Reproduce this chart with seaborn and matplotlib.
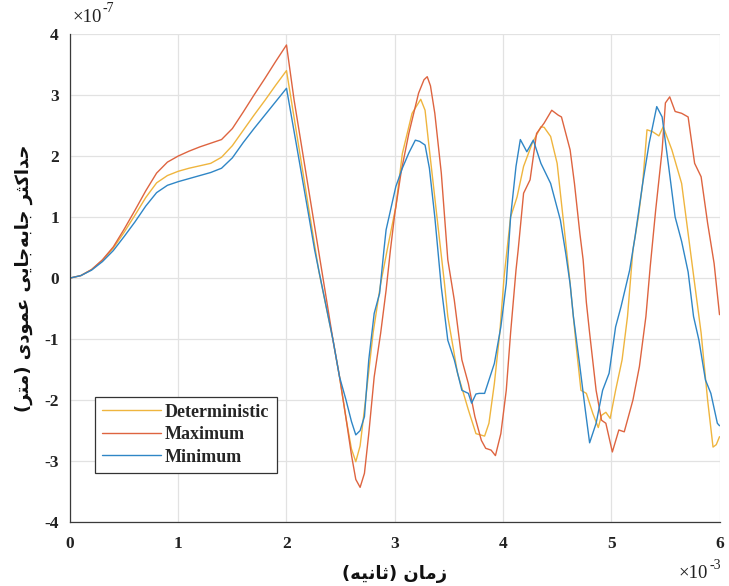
import numpy as np
import pandas as pd
import matplotlib
matplotlib.use('Agg')
import matplotlib.pyplot as plt
import seaborn as sns
from matplotlib.ticker import FuncFormatter

# ---------------- data (time in 1e-3 s, displacement in 1e-7 m) ----------------
series_names = ['Deterministic', 'Maximum', 'Minimum']
series_colors = ['#EFB53E', '#DE6440', '#2F86C6']

t_det = [0, 0.1, 0.2, 0.3, 0.4, 0.5, 0.6, 0.7, 0.8, 0.9, 1.0, 1.1, 1.2, 1.3, 1.4, 1.5, 1.6, 1.7, 1.8, 1.9, 2.0,
         2.1, 2.2, 2.3, 2.43, 2.49, 2.55, 2.6, 2.64, 2.68, 2.73, 2.8, 2.87, 2.93, 3.01, 3.07, 3.16, 3.24, 3.28, 3.31,
         3.39, 3.46, 3.49, 3.58, 3.68, 3.75, 3.83, 3.87, 3.92, 3.97, 4.01, 4.07, 4.13, 4.19, 4.27, 4.35, 4.38, 4.44,
         4.5, 4.56, 4.62, 4.68, 4.72, 4.77, 4.83, 4.88, 4.91, 4.95, 4.99, 5.04, 5.1, 5.15, 5.2, 5.25, 5.29, 5.33,
         5.38, 5.44, 5.48, 5.56, 5.65, 5.71, 5.77, 5.83, 5.89, 5.94, 5.97, 6.0]
v_det = [0, 0.04, 0.14, 0.29, 0.49, 0.75, 1.03, 1.32, 1.56, 1.68, 1.75, 1.8, 1.84, 1.88, 1.98, 2.17, 2.42, 2.67, 2.91, 3.16, 3.4,
         2.3, 1.2, 0.1, -1.02, -1.62, -2.3, -2.8, -3.01, -2.75, -2.0, -0.9, -0.09, 0.46, 1.17, 2.04, 2.7, 2.93, 2.75, 2.26,
         1.0, -0.1, -0.63, -1.56, -2.16, -2.55, -2.59, -2.38, -1.73, -0.9, 0.02, 1.0, 1.33, 1.83, 2.21, 2.48, 2.47, 2.32,
         1.88, 0.9, -0.09, -1.18, -1.84, -1.89, -2.22, -2.45, -2.25, -2.2, -2.3, -1.84, -1.34, -0.63, 0.46, 1.0, 1.55, 2.43,
         2.4, 2.33, 2.48, 2.1, 1.55, 0.73, -0.09, -0.9, -2.0, -2.77, -2.73, -2.6]

t_max = [0, 0.1, 0.2, 0.3, 0.4, 0.5, 0.6, 0.7, 0.8, 0.9, 1.0, 1.1, 1.2, 1.3, 1.4, 1.5, 1.6, 1.7, 1.8, 1.9, 2.0,
         2.07, 2.2, 2.37, 2.43, 2.49, 2.55, 2.6, 2.64, 2.68, 2.72, 2.76, 2.81, 2.87, 2.92, 2.96, 3.0, 3.06, 3.13, 3.22,
         3.27, 3.3, 3.33, 3.37, 3.43, 3.49, 3.55, 3.62, 3.68, 3.74, 3.8, 3.84, 3.89, 3.93, 3.98, 4.03, 4.07, 4.12, 4.14,
         4.19, 4.25, 4.31, 4.38, 4.45, 4.51, 4.54, 4.62, 4.66, 4.71, 4.74, 4.77, 4.8, 4.86, 4.91, 4.95, 5.01, 5.07, 5.12,
         5.2, 5.26, 5.32, 5.36, 5.41, 5.47, 5.5, 5.54, 5.59, 5.65, 5.71, 5.77, 5.83, 5.89, 5.95, 6.0]
v_max = [0, 0.04, 0.14, 0.3, 0.51, 0.8, 1.11, 1.43, 1.72, 1.9, 2.0, 2.08, 2.15, 2.21, 2.27, 2.45, 2.72, 3.0, 3.27, 3.55, 3.82,
         2.92, 1.5, -0.36, -1.02, -1.62, -2.3, -2.9, -3.3, -3.43, -3.2, -2.55, -1.62, -0.9, -0.2, 0.46, 1.05, 1.75, 2.37, 3.03,
         3.25, 3.3, 3.15, 2.7, 1.72, 0.3, -0.36, -1.34, -1.73, -2.27, -2.66, -2.79, -2.82, -2.91, -2.55, -1.84, -0.9, 0.13, 0.46,
         1.39, 1.61, 2.37, 2.54, 2.75, 2.67, 2.64, 2.1, 1.55, 0.73, 0.3, -0.4, -0.9, -1.84, -2.33, -2.38, -2.85, -2.49, -2.52,
         -2.0, -1.45, -0.63, 0.19, 1.11, 2.1, 2.87, 2.97, 2.73, 2.7, 2.64, 1.88, 1.66, 0.9, 0.24, -0.6]

t_min = [0, 0.1, 0.2, 0.3, 0.4, 0.5, 0.6, 0.7, 0.8, 0.9, 1.0, 1.1, 1.2, 1.3, 1.4, 1.5, 1.6, 1.7, 1.8, 1.9, 2.0,
         2.1, 2.2, 2.26, 2.43, 2.49, 2.55, 2.6, 2.64, 2.68, 2.72, 2.76, 2.81, 2.86, 2.9, 2.92, 3.01, 3.07, 3.13, 3.19,
         3.23, 3.28, 3.32, 3.37, 3.43, 3.49, 3.55, 3.62, 3.68, 3.71, 3.75, 3.78, 3.83, 3.92, 3.98, 4.03, 4.07, 4.12, 4.16,
         4.22, 4.28, 4.35, 4.44, 4.53, 4.58, 4.62, 4.65, 4.71, 4.76, 4.8, 4.86, 4.92, 4.98, 5.04, 5.09, 5.17, 5.22, 5.29,
         5.35, 5.42, 5.47, 5.53, 5.59, 5.65, 5.71, 5.76, 5.81, 5.87, 5.92, 5.98, 6.0]
v_min = [0, 0.04, 0.13, 0.27, 0.45, 0.68, 0.92, 1.18, 1.4, 1.52, 1.58, 1.63, 1.68, 1.73, 1.8, 1.97, 2.22, 2.45, 2.67, 2.89, 3.11,
         2.1, 1.08, 0.46, -1.02, -1.62, -2.0, -2.35, -2.57, -2.5, -2.27, -1.34, -0.58, -0.25, 0.46, 0.79, 1.5, 1.8, 2.05, 2.26,
         2.24, 2.18, 1.8, 1.0, -0.15, -1.02, -1.34, -1.84, -1.89, -2.05, -1.9, -1.89, -1.89, -1.4, -0.8, -0.09, 1.0, 1.83, 2.27,
         2.07, 2.26, 1.88, 1.55, 0.95, 0.4, -0.1, -0.63, -1.45, -2.16, -2.7, -2.38, -1.84, -1.56, -0.8, -0.47, 0.13, 0.68, 1.55,
         2.21, 2.81, 2.64, 1.83, 1.0, 0.6, 0.1, -0.63, -1.02, -1.67, -1.89, -2.38, -2.42]

x_ticks = [0, 1, 2, 3, 4, 5, 6]
y_ticks = [-4, -3, -2, -1, 0, 1, 2, 3, 4]
x_scale_exp = '-3'
y_scale_exp = '-7'
x_label = 'زمان (ثانیه)'
y_label = 'حداکثر جابه\u200cجایی عمودی (متر)'

# ---------------- simple Persian shaping (matplotlib has no Arabic shaping) ----------------
_DUAL = {
    'ب': ('\uFE8F', '\uFE90', '\uFE91', '\uFE92'),
    'ت': ('\uFE95', '\uFE96', '\uFE97', '\uFE98'),
    'ث': ('\uFE99', '\uFE9A', '\uFE9B', '\uFE9C'),
    'ج': ('\uFE9D', '\uFE9E', '\uFE9F', '\uFEA0'),
    'ح': ('\uFEA1', '\uFEA2', '\uFEA3', '\uFEA4'),
    'ع': ('\uFEC9', '\uFECA', '\uFECB', '\uFECC'),
    'م': ('\uFEE1', '\uFEE2', '\uFEE3', '\uFEE4'),
    'ن': ('\uFEE5', '\uFEE6', '\uFEE7', '\uFEE8'),
    'ه': ('\uFEE9', '\uFEEA', '\uFEEB', '\uFEEC'),
    'ک': ('\uFB8E', '\uFB8F', '\uFB90', '\uFB91'),
    'ی': ('\uFBFC', '\uFBFD', '\uFBFE', '\uFBFF'),
}
_RIGHT = {
    'ا': ('\uFE8D', '\uFE8E'),
    'د': ('\uFEA9', '\uFEAA'),
    'ر': ('\uFEAD', '\uFEAE'),
    'ز': ('\uFEAF', '\uFEB0'),
    'و': ('\uFEED', '\uFEEE'),
}


def shape_rtl(s):
    out = []
    n = len(s)
    for i, c in enumerate(s):
        if c == '\u200c':
            continue
        if c in _DUAL or c in _RIGHT:
            prev = s[i - 1] if i > 0 else ''
            nxt = s[i + 1] if i < n - 1 else ''
            jp = prev in _DUAL
            jn = c in _DUAL and (nxt in _DUAL or nxt in _RIGHT)
            if c in _DUAL:
                iso, fin, ini, med = _DUAL[c]
                f = med if (jp and jn) else fin if jp else ini if jn else iso
            else:
                iso, fin = _RIGHT[c]
                f = fin if jp else iso
            out.append(f)
        else:
            out.append({'(': ')', ')': '('}.get(c, c))
    return ''.join(reversed(out))


# ---------------- build long table ----------------
frames = []
for name, tt, vv in zip(series_names, [t_det, t_max, t_min], [v_det, v_max, v_min]):
    frames.append(pd.DataFrame({'t': np.array(tt) * 1e-3, 'v': np.array(vv) * 1e-7, 'series': name}))
df = pd.concat(frames, ignore_index=True)

sns.set_theme(style='whitegrid')
plt.rcParams['axes.unicode_minus'] = False

fig = plt.figure(figsize=(7.29, 5.86), dpi=100)
ax = fig.add_axes([0.096, 0.109, 0.891, 0.833])
ax.set_facecolor('white')

sns.lineplot(data=df, x='t', y='v', hue='series', hue_order=series_names,
             palette=dict(zip(series_names, series_colors)), estimator=None, sort=False,
             linewidth=1.0, ax=ax, legend=True)

ax.set_xlim(0, 6e-3)
ax.set_ylim(-4e-7, 4e-7)
ax.set_xticks(np.array(x_ticks) * 1e-3)
ax.set_yticks(np.array(y_ticks) * 1e-7)
ax.xaxis.set_major_formatter(FuncFormatter(lambda v, p: '%d' % round(v / 1e-3)))
ax.yaxis.set_major_formatter(FuncFormatter(lambda v, p: '%d' % round(v / 1e-7)))

ax.grid(True, color='#E2E2E2', linewidth=0.9)
for side in ['top', 'right']:
    ax.spines[side].set_visible(False)
for side in ['left', 'bottom']:
    ax.spines[side].set_color('#3a3a3a')
    ax.spines[side].set_linewidth(0.9)
ax.tick_params(direction='in', length=4, width=0.8, color='#3a3a3a', labelsize=12.5, labelcolor='#222222')
ax.tick_params(axis='x', pad=10)
ax.tick_params(axis='y', pad=8)
for lab in ax.get_xticklabels() + ax.get_yticklabels():
    lab.set_fontfamily('Liberation Serif')
    lab.set_fontweight('bold')

# MATLAB style exponent labels
serif = {'family': 'Liberation Serif', 'color': '#222222'}
ty = ax.annotate('×10', xy=(0, 1), xycoords='axes fraction', xytext=(1.5, 6), textcoords='offset points',
                 ha='left', va='bottom', fontsize=13.5, **serif)
ax.annotate(y_scale_exp, xy=(1, 0.6), xycoords=ty, xytext=(1, 0), textcoords='offset points',
            ha='left', va='bottom', fontsize=10, **serif)
tx = fig.text(0.931, 0.006, '×10', ha='left', va='bottom', fontsize=13.5, **serif)
fig.texts.append(matplotlib.text.Annotation(x_scale_exp, xy=(1, 0.6), xycoords=tx, xytext=(1, 0),
                                            textcoords='offset points', ha='left', va='bottom',
                                            fontsize=10, fontfamily='Liberation Serif', color='#222222'))
fig.texts[-1].set_figure(fig)

ax.set_xlabel(shape_rtl(x_label), fontfamily='DejaVu Sans', fontweight='bold', fontsize=13,
              color='#111111', labelpad=9)
ax.set_ylabel(shape_rtl(y_label), fontfamily='DejaVu Sans', fontweight='bold', fontsize=13,
              color='#111111', labelpad=8)

leg = ax.legend(loc='lower left', bbox_to_anchor=(0.038, 0.101), frameon=True, fancybox=False,
                framealpha=1, edgecolor='#333333', handlelength=3.3, handletextpad=0.2,
                labelspacing=0.3, borderpad=0.4, borderaxespad=0,
                prop={'family': 'Liberation Serif', 'weight': 'bold', 'size': 13})
leg.get_frame().set_linewidth(0.9)

fig.savefig('out.png', dpi=100, facecolor='white')
